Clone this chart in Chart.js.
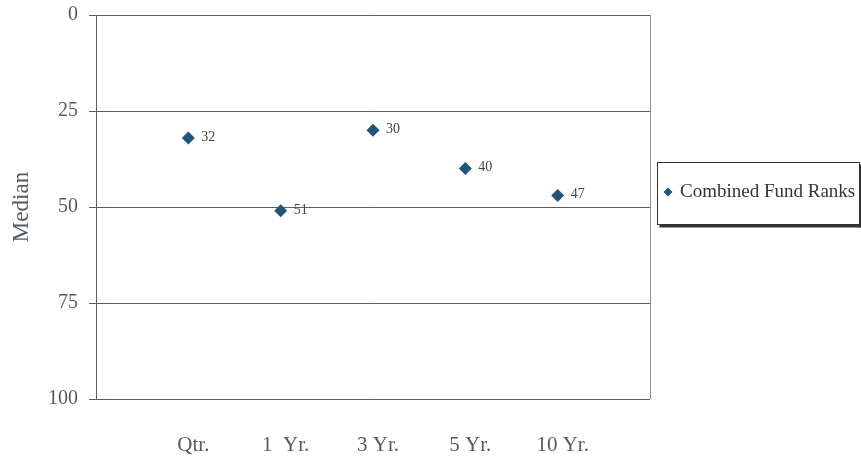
<!DOCTYPE html>
<html lang="en">
<head>
<meta charset="UTF-8">
<title>Combined Fund Ranks</title>
<script src="https://cdn.jsdelivr.net/npm/chart.js@4.4.0/dist/chart.umd.min.js"></script>
<style>
  html, body { margin:0; padding:0; background:#ffffff; }
  #wrap { width:861px; height:459px; }
</style>
</head>
<body>
<div id="wrap"><canvas id="ranks"></canvas></div>
<script>
  // periods and median ranks
  const periods = ['Qtr.', '1  Yr.', '3 Yr.', '5 Yr.', '10 Yr.'];
  const ranks = [32, 51, 30, 40, 47];
  const rankTicks = [0, 25, 50, 75, 100];
  const seriesName = 'Combined Fund Ranks';

  const ink = '#555a60';
  const dot = '#1f5577';
  const serif = '"Liberation Serif", "DejaVu Serif", serif';

  // value labels next to each diamond
  const valueLabels = {
    id: 'valueLabels',
    afterDatasetsDraw(chart) {
      const ctx = chart.ctx;
      const meta = chart.getDatasetMeta(0);
      ctx.save();
      ctx.font = '14px ' + serif;
      ctx.fillStyle = '#444';
      ctx.textBaseline = 'middle';
      meta.data.forEach((pt, i) => {
        ctx.fillText(String(ranks[i]), pt.x + 13, pt.y - 1);
      });
      ctx.restore();
    }
  };

  // right border of the plot and the boxed legend
  const frameAndLegend = {
    id: 'frameAndLegend',
    afterDraw(chart) {
      const ctx = chart.ctx;
      const a = chart.chartArea;
      ctx.save();
      ctx.strokeStyle = '#8a8e96';
      ctx.lineWidth = 1;
      ctx.beginPath();
      ctx.moveTo(Math.round(a.right) + 0.5, a.top);
      ctx.lineTo(Math.round(a.right) + 0.5, a.bottom);
      ctx.stroke();

      // legend box with drop shadow
      const bx = 657.5, by = 162.5, bw = 202, bh = 62;
      ctx.fillStyle = '#333';
      ctx.fillRect(bx + 2, by + bh, bw, 3);
      ctx.fillRect(bx + bw, by + 2, 3, bh + 1);
      ctx.fillStyle = '#fff';
      ctx.fillRect(bx, by, bw, bh);
      ctx.strokeStyle = '#333';
      ctx.strokeRect(bx, by, bw, bh);

      // marker
      const mx = 668, my = 192;
      ctx.fillStyle = dot;
      ctx.beginPath();
      ctx.moveTo(mx, my - 4.5);
      ctx.lineTo(mx + 4.5, my);
      ctx.lineTo(mx, my + 4.5);
      ctx.lineTo(mx - 4.5, my);
      ctx.closePath();
      ctx.fill();

      ctx.font = '19px ' + serif;
      ctx.fillStyle = '#333';
      ctx.textBaseline = 'middle';
      ctx.fillText(seriesName, 680, my);
      ctx.restore();
    }
  };

  new Chart(document.getElementById('ranks'), {
    type: 'scatter',
    data: {
      datasets: [{
        label: seriesName,
        data: ranks.map((r, i) => ({ x: i + 1, y: r })),
        pointStyle: 'rectRot',
        pointRadius: 6.5,
        pointHoverRadius: 6.5,
        backgroundColor: dot,
        borderColor: dot,
        borderWidth: 0,
        showLine: false
      }]
    },
    options: {
      responsive: true,
      maintainAspectRatio: false,
      animation: false,
      events: [],
      layout: { padding: { top: 15, right: 211, left: 0, bottom: 0 } },
      plugins: {
        legend: { display: false },
        tooltip: { enabled: false }
      },
      scales: {
        x: {
          type: 'linear',
          min: 0,
          max: 6,
          afterBuildTicks: s => { s.ticks = periods.map((p, i) => ({ value: i + 1 })); },
          afterFit: s => { s.height = 60; s.paddingLeft = 0; s.paddingRight = 0; },
          grid: { display: false, drawTicks: false },
          border: { display: false },
          ticks: {
            autoSkip: false,
            maxRotation: 0,
            padding: 34,
            labelOffset: 5,
            color: ink,
            font: { family: serif, size: 21 },
            callback: v => periods[v - 1]
          }
        },
        y: {
          reverse: true,
          min: 0,
          max: 100,
          afterBuildTicks: s => { s.ticks = rankTicks.map(v => ({ value: v })); },
          afterFit: s => { s.width = 96; s.paddingTop = 0; s.paddingBottom = 0; },
          grid: { color: '#5a5e66', lineWidth: 1, tickLength: 7, drawTicks: true },
          border: { display: true, color: '#5a5e66' },
          ticks: {
            padding: 11,
            color: ink,
            font: { family: serif, size: 20 }
          },
          title: {
            display: true,
            text: 'Median',
            color: ink,
            font: { family: serif, size: 23 },
            padding: { top: 8, bottom: 0 }
          }
        }
      }
    },
    plugins: [valueLabels, frameAndLegend]
  });
</script>
</body>
</html>
